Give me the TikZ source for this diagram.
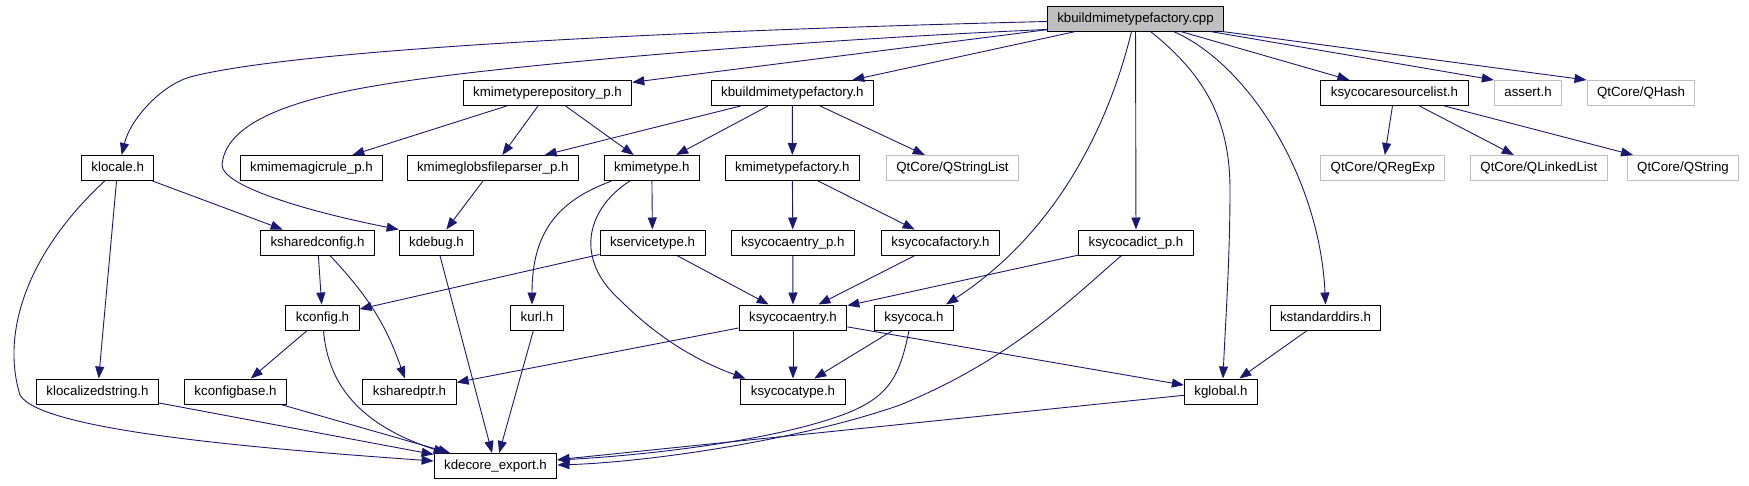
\documentclass[tikz,border=0pt]{standalone}
\usepackage{fontspec}
\setmainfont{Liberation Sans}
\usetikzlibrary{arrows.meta,calc}
\definecolor{edgeblue}{RGB}{25,25,112}
\definecolor{rootgray}{RGB}{191,191,191}
\definecolor{extgray}{RGB}{191,191,191}
\begin{document}
\begin{tikzpicture}[x=1pt,y=-1pt,
 hbox/.style={draw=black, line width=1pt, fill=white, minimum height=25pt, inner xsep=10pt, inner ysep=0pt, text height=10pt, text depth=3pt, font=\fontsize{13.3}{16}\selectfont, text=black},
 hext/.style={hbox, draw=extgray},
 hroot/.style={hbox, fill=rootgray},
 dep/.style={draw=edgeblue, line width=0.9pt, -{Triangle[length=12pt,width=9pt]}}
]
\useasboundingbox (0,0) rectangle (1749,485);
% row 0
\node[hroot] (cpp) at (1135.5,18.5) {kbuildmimetypefactory.cpp};
% row 1
\node[hbox] (krepo) at (547.5,93) {kmimetyperepository\_p.h};
\node[hbox] (kbmf) at (792.4,93) {kbuildmimetypefactory.h};
\node[hbox] (kscrl) at (1394.5,93) {ksycocaresourcelist.h};
\node[hext] (assert) at (1528,93) {assert.h};
\node[hext] (qhash) at (1641,93) {QtCore/QHash};
% row 2
\node[hbox] (klocale) at (117.7,168) {klocale.h};
\node[hbox] (kmagic) at (311.5,168) {kmimemagicrule\_p.h};
\node[hbox] (kglobs) at (492.8,168) {kmimeglobsfileparser\_p.h};
\node[hbox] (kmimetype) at (651.8,168) {kmimetype.h};
\node[hbox] (kmtf) at (792.3,168) {kmimetypefactory.h};
\node[hext] (qsl) at (952.5,168) {QtCore/QStringList};
\node[hext] (qregexp) at (1382.8,168) {QtCore/QRegExp};
\node[hext] (qll) at (1538.8,168) {QtCore/QLinkedList};
\node[hext] (qstring) at (1683,168) {QtCore/QString};
% row 3
\node[hbox] (kshcfg) at (317.5,242.5) {ksharedconfig.h};
\node[hbox] (kdebug) at (436.5,242.5) {kdebug.h};
\node[hbox] (kservicetype) at (652.5,242.5) {kservicetype.h};
\node[hbox] (kscep) at (792.8,242.5) {ksycocaentry\_p.h};
\node[hbox] (kscf) at (940.5,242.5) {ksycocafactory.h};
\node[hbox] (kscd) at (1136,242.5) {ksycocadict\_p.h};
% row 4
\node[hbox] (kconfig) at (322.5,317.5) {kconfig.h};
\node[hbox] (kurl) at (537,317.5) {kurl.h};
\node[hbox] (ksce) at (793,317.5) {ksycocaentry.h};
\node[hbox] (ksycoca) at (914,317.5) {ksycoca.h};
\node[hbox] (kstd) at (1325.5,317.5) {kstandarddirs.h};
% row 5
\node[hbox] (klstr) at (97.5,391.5) {klocalizedstring.h};
\node[hbox] (kcfgbase) at (235.5,391.5) {kconfigbase.h};
\node[hbox] (kshptr) at (409.5,391.5) {ksharedptr.h};
\node[hbox] (ksct) at (793,391.5) {ksycocatype.h};
\node[hbox] (kglobal) at (1221,391.5) {kglobal.h};
% row 6
\node[hbox] (kdecore) at (495.5,466) {kdecore\_export.h};

% edges from cpp
\draw[dep] ($(cpp.west)+(0,3)$) .. controls (700,30) and (300,48) .. (190,77) .. controls (160,86) and (130,120) .. ($(klocale.north)+(4,0)$);
\draw[dep] ($(cpp.south west)+(0,-2)$) .. controls (800,40) and (500,65) .. (380,85) .. controls (270,103) and (225,130) .. (222,165) .. controls (222,185) and (300,210) .. (kdebug.north west);
\draw[dep] (cpp) -- (krepo);
\draw[dep] (cpp) -- (kbmf);
\draw[dep] (cpp) -- (kscrl);
\draw[dep] ($(cpp.south east)+(-14,0)$) -- (assert.north west);
\draw[dep] ($(cpp.south east)+(-2,0)$) -- (qhash.north west);
\draw[dep] (cpp) -- (kscd);
\draw[dep] ($(cpp.south)+(-4,0)$) .. controls (1110,120) and (1060,230) .. ($(ksycoca.north east)+(-8,0)$);
\draw[dep] ($(cpp.south)+(15,0)$) .. controls (1205,75) and (1230,120) .. (1230,190) .. controls (1230,260) and (1225,330) .. ($(kglobal.north)+(2,0)$);
\draw[dep] ($(cpp.south)+(38,0)$) .. controls (1250,65) and (1320,180) .. (kstd.north);
% row 1 sources
\draw[dep] (krepo) -- (kmagic);
\draw[dep] (krepo) -- (kglobs);
\draw[dep] (krepo) -- (kmimetype);
\draw[dep] (kbmf) -- (kglobs);
\draw[dep] (kbmf) -- (kmimetype);
\draw[dep] (kbmf) -- (kmtf);
\draw[dep] (kbmf) -- (qsl);
\draw[dep] (kscrl) -- (qregexp);
\draw[dep] (kscrl) -- (qll);
\draw[dep] (kscrl) -- (qstring);
% row 2 sources
\draw[dep] (klocale) -- (kshcfg);
\draw[dep] (klocale) -- (klstr);
\draw[dep] ($(klocale.south)+(-13,0)$) .. controls (30,250) and (0,330) .. (20,395) .. controls (40,430) and (250,448) .. ($(kdecore.west)+(0,-5)$);
\draw[dep] (kglobs) -- (kdebug);
\draw[dep] (kmimetype) -- (kservicetype);
\draw[dep] ($(kmimetype.south west)+(8,0)$) .. controls (560,200) and (532,230) .. ($(kurl.north)+(-5,0)$);
\draw[dep] ($(kmimetype.south)+(-22,0)$) .. controls (585,210) and (575,260) .. (620,300) .. controls (660,340) and (700,362) .. ($(ksct.north west)+(5,0)$);
\draw[dep] (kmtf) -- (kscep);
\draw[dep] (kmtf) -- (kscf);
% row 3 sources
\draw[dep] (kshcfg) -- (kconfig);
\draw[dep] (kshcfg) to[bend left=12] (kshptr);
\draw[dep] (kdebug) -- (kdecore);
\draw[dep] (kservicetype) -- (kconfig);
\draw[dep] (kservicetype) -- (ksce);
\draw[dep] (kscep) -- (ksce);
\draw[dep] (kscf) -- (ksce);
\draw[dep] (kscd) -- (ksce);
\draw[dep] ($(kscd.south)+(-14.5,0)$) .. controls (1070,300) and (1010,360) .. (900,405) .. controls (800,440) and (650,462) .. ($(kdecore.east)+(0,-1)$);
% row 4 sources
\draw[dep] (kconfig) -- (kcfgbase);
\draw[dep] ($(kconfig.south)+(1,0)$) .. controls (328,385) and (360,425) .. ($(kdecore.north west)+(12,0)$);
\draw[dep] (kurl) -- (kdecore);
\draw[dep] (ksce) -- (kshptr);
\draw[dep] (ksce) -- (ksct);
\draw[dep] (ksce) -- (kglobal);
\draw[dep] (ksycoca) -- (ksct);
\draw[dep] ($(ksycoca.south)+(-5,0)$) .. controls (900,375) and (890,395) .. (850,412) .. controls (780,440) and (650,455) .. ($(kdecore.east)+(0,-6)$);
\draw[dep] (kstd) -- (kglobal);
% row 5 sources
\draw[dep] (klstr) -- (kdecore);
\draw[dep] (kcfgbase) -- (kdecore);
\draw[dep] (kglobal) -- (kdecore);
\end{tikzpicture}
\end{document}
